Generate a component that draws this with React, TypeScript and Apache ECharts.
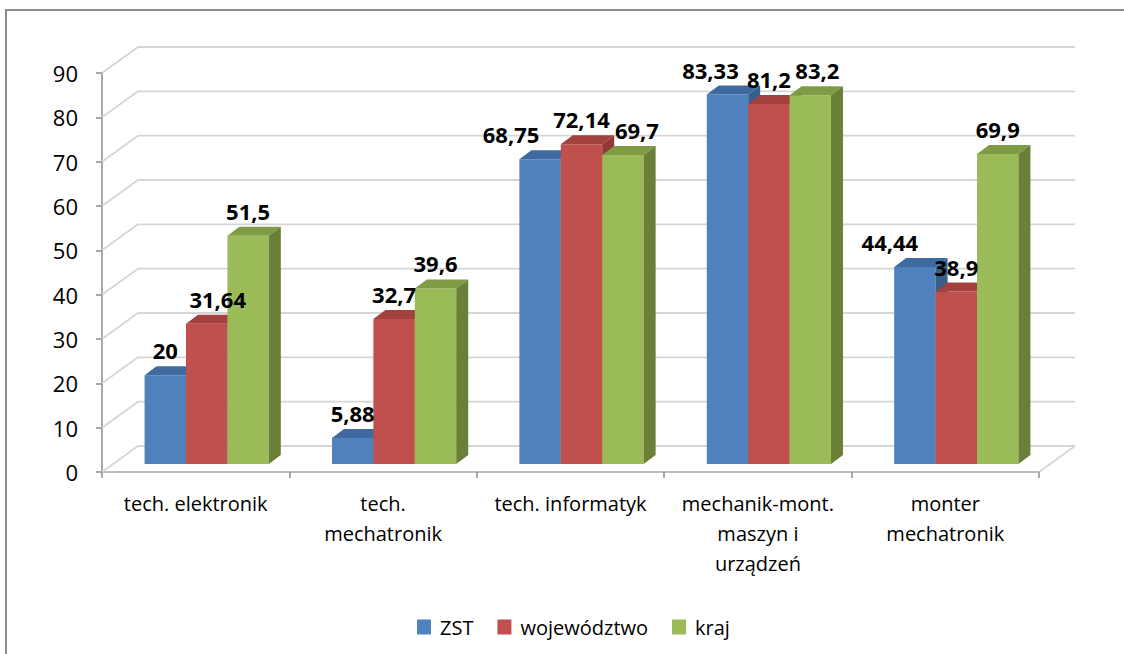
import React, { useEffect, useRef } from 'react';
import * as echarts from 'echarts';

// ---- data ----
const CATEGORIES = [
  'tech. elektronik',
  'tech.\nmechatronik',
  'tech. informatyk',
  'mechanik-mont.\nmaszyn i\nurządzeń',
  'monter\nmechatronik',
];
const SERIES_NAMES = ['ZST', 'województwo', 'kraj'];
const ZST = [20, 5.88, 68.75, 83.33, 44.44];
const WOJEWODZTWO = [31.64, 32.7, 72.14, 81.2, 38.9];
const KRAJ = [51.5, 39.6, 69.7, 83.2, 69.9];
const Y_TICKS = [0, 10, 20, 30, 40, 50, 60, 70, 80, 90];

// ---- styles / layout ----
const FRONT = ['#4f81bd', '#c0504d', '#9bbb59'];
const TOP = ['#3e6a9f', '#a3413e', '#7f9c45'];
const SIDE = ['#375f8e', '#8e3936', '#6a7f37'];
const GRID_COLOR = '#d6d6d6';
const AXIS_COLOR = '#8c8c8c';
const WALL_DX = 36;
const WALL_DY = -26;
const BAR_DX = 11;
const BAR_DY = -8;
const DEPTH_DX = 12;
const DEPTH_DY = -9;
const BAR_FRAC = 0.221;
const LABEL_DX = [
  [0, 0, -29, -17, -25],
  [11, 0, 0, 0, 0],
  [0, 0, 14, 7, 0],
];
const LABEL_DY = -25;
const FONT = '"Open Sans", "Noto Sans", sans-serif';

const fmt = (v: number) => String(v).replace('.', ',');

function makeBarSeries(sIdx: number, values: number[]) {
  return {
    type: 'custom',
    name: SERIES_NAMES[sIdx],
    coordinateSystem: 'cartesian2d',
    clip: false,
    z: 2,
    itemStyle: { color: FRONT[sIdx] },
    encode: { x: 0, y: 1 },
    data: values.map((v, i) => [i, v]),
    renderItem: (params: any, api: any) => {
      const i = api.value(0);
      const v = api.value(1);
      const top = api.coord([i, v]);
      const base = api.coord([i, 0]);
      const band = api.size([1, 0])[0];
      const w = band * BAR_FRAC;
      const left = top[0] - 1.5 * w + sIdx * w + BAR_DX;
      const right = left + w;
      const yT = top[1] + BAR_DY;
      const yB = base[1] + BAR_DY;
      return {
        type: 'group',
        children: [
          {
            type: 'rect',
            shape: { x: left, y: yT, width: w, height: yB - yT },
            style: { fill: FRONT[sIdx] },
          },
          {
            type: 'polygon',
            shape: {
              points: [
                [left, yT],
                [left + DEPTH_DX, yT + DEPTH_DY],
                [right + DEPTH_DX, yT + DEPTH_DY],
                [right, yT],
              ],
            },
            style: { fill: TOP[sIdx] },
          },
          {
            type: 'polygon',
            shape: {
              points: [
                [right, yT],
                [right + DEPTH_DX, yT + DEPTH_DY],
                [right + DEPTH_DX, yB + DEPTH_DY],
                [right, yB],
              ],
            },
            style: { fill: SIDE[sIdx] },
          },
          {
            type: 'text',
            z2: 100,
            style: {
              text: fmt(v),
              x: (left + right) / 2 + LABEL_DX[sIdx][i],
              y: yT + LABEL_DY,
              align: 'center',
              verticalAlign: 'middle',
              fill: '#000',
              font: `bold 22px ${FONT}`,
            },
          },
        ],
      };
    },
  };
}

export default function App() {
  const ref = useRef<HTMLDivElement>(null);
  useEffect(() => {
    if (!ref.current) return;
    const chart = echarts.init(ref.current, undefined, { renderer: 'svg' });
    const gridStyle = { stroke: GRID_COLOR, lineWidth: 1.8 };
    chart.setOption({
      animation: false,
      backgroundColor: '#fff',
      graphic: [
        {
          type: 'rect',
          shape: { x: 6, y: 10, width: 1300, height: 800 },
          style: { fill: 'none', stroke: '#8c8c8c', lineWidth: 2 },
          silent: true,
        },
      ],
      grid: { left: 102, top: 73, width: 937, height: 399 },
      legend: {
        left: 412,
        top: 612,
        icon: 'rect',
        itemWidth: 14,
        itemHeight: 15,
        itemGap: 24,
        selectedMode: false,
        data: SERIES_NAMES,
        textStyle: { fontFamily: FONT, fontSize: 20, color: '#000', padding: [0, 0, 0, 4] },
      },
      xAxis: {
        type: 'category',
        data: CATEGORIES,
        boundaryGap: true,
        axisLine: { show: true, lineStyle: { color: '#a6a6a6', width: 1.5 } },
        axisTick: { show: true, length: 6, lineStyle: { color: AXIS_COLOR, width: 1.5 } },
        axisLabel: {
          interval: 0,
          margin: 16,
          color: '#000',
          fontFamily: FONT,
          fontSize: 20,
          lineHeight: 30,
        },
        splitLine: { show: false },
      },
      yAxis: {
        type: 'value',
        min: 0,
        max: 90,
        interval: 10,
        axisLine: { show: true, lineStyle: { color: AXIS_COLOR, width: 1.5 } },
        axisTick: { show: true, length: 6, lineStyle: { color: AXIS_COLOR, width: 1.5 } },
        axisLabel: { margin: 24, color: '#000', fontFamily: FONT, fontSize: 22 },
        splitLine: { show: false },
      },
      series: [
        {
          type: 'custom',
          name: 'walls',
          coordinateSystem: 'cartesian2d',
          clip: false,
          silent: true,
          z: 1,
          encode: { x: 0, y: 1 },
          data: Y_TICKS.map((v) => [0, v]),
          renderItem: (params: any, api: any) => {
            const v = api.value(1);
            const cs = params.coordSys;
            const y = api.coord([0, v])[1];
            const x0 = cs.x;
            const x1 = cs.x + cs.width;
            const children: any[] = [
              { type: 'line', shape: { x1: x0, y1: y, x2: x0 + WALL_DX, y2: y + WALL_DY }, style: gridStyle },
              {
                type: 'line',
                shape: { x1: x0 + WALL_DX, y1: y + WALL_DY, x2: x1 + WALL_DX, y2: y + WALL_DY },
                style: gridStyle,
              },
            ];
            if (v === 0) {
              children.push({
                type: 'line',
                shape: { x1: x1, y1: y, x2: x1 + WALL_DX, y2: y + WALL_DY },
                style: gridStyle,
              });
            }
            return { type: 'group', children };
          },
        },
        makeBarSeries(0, ZST),
        makeBarSeries(1, WOJEWODZTWO),
        makeBarSeries(2, KRAJ),
      ],
    });
    return () => chart.dispose();
  }, []);
  return (
    <div
      ref={ref}
      style={{ position: 'fixed', left: 0, top: 0, width: 1124, height: 654, background: '#fff' }}
    />
  );
}
